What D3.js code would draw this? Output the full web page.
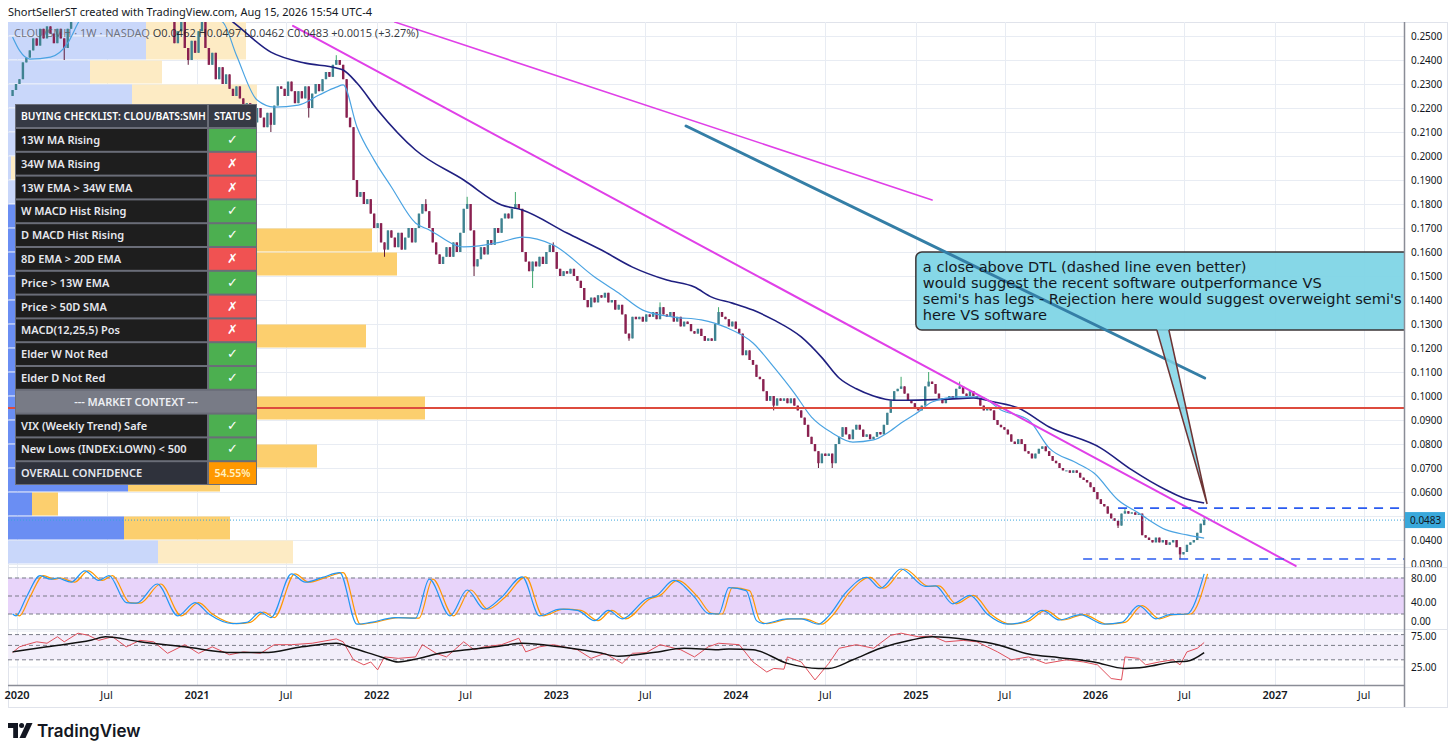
<!DOCTYPE html>
<html>
<head>
<meta charset="utf-8">
<script src="https://cdn.jsdelivr.net/npm/d3@7"></script>
<style>
  body { margin: 0; background: #fff; }
  svg { display: block; font-family: 'Noto Sans', sans-serif; }
</style>
</head>
<body>
<svg></svg>
<script>
// ---------- DATA (prices in 1e-4 units, weekly bars ending on lastWeek) ----------
const lastWeek = '2026-08-10';
const closes = [
  2275, 2300, 2320, 2390, 2410, 2440, 2490, 2460, 2530, 2490, 2540, 2510, 2470, 2530, 2490, 2450, 2530, 2560,
  2620, 2680, 2720, 2760, 2800, 2850, 2900, 2870, 2930, 2980, 2950, 3000, 3050, 2990, 2950, 3000, 3060, 3020, 2980, 2940, 2900, 2870, 2830, 2800, 2760, 2720, 2690, 2650,
  2560, 2470, 2520, 2560, 2450, 2400, 2480, 2430, 2520, 2560, 2450, 2380, 2430, 2320, 2370,
  2300, 2340, 2280, 2250, 2290, 2240, 2190, 2220, 2170, 2140, 2200, 2160, 2120, 2180, 2130, 2210, 2290,
  2280, 2250, 2310, 2270, 2220, 2270, 2240, 2290, 2200, 2260, 2300, 2270, 2320, 2350, 2330, 2380, 2400, 2380, 2320,
  2160, 2120, 1900, 1830, 1850, 1800, 1820, 1760, 1700, 1720, 1640, 1610,
  1690, 1660, 1620, 1680, 1610, 1660, 1700, 1640, 1700, 1760, 1800, 1770, 1700, 1640, 1590, 1550, 1580, 1620, 1580, 1640, 1600, 1680, 1780, 1800, 1690, 1540, 1570, 1620, 1590, 1650, 1630, 1700, 1680, 1740, 1760, 1740, 1780, 1800,
  1780, 1600, 1560, 1520, 1560, 1540, 1580, 1550, 1600, 1630, 1600,
  1530, 1500, 1520, 1510, 1530, 1500, 1480, 1450, 1400, 1370, 1410, 1390, 1420, 1410, 1430, 1390, 1400, 1360, 1380, 1340,
  1260, 1240, 1330, 1320, 1330, 1310, 1340, 1330, 1350, 1320, 1370, 1340, 1330, 1350, 1310, 1330, 1290, 1310, 1300, 1270, 1260, 1280, 1250, 1230, 1240, 1230,
  1300, 1350, 1330, 1320, 1290, 1310, 1280, 1260, 1170, 1190, 1150, 1130, 1080, 1070, 1020, 980, 1000, 960,
  990, 980, 990, 970, 990, 960, 940, 910, 880, 830, 800, 770, 720, 760, 750, 760, 720,
  800, 830, 870, 840, 820, 860, 880, 860, 830, 840, 820, 830, 850, 840, 880, 930, 980, 1020, 1030, 1040,
  1010, 980, 970, 950, 940, 960, 1040, 1060, 1050, 1010, 990, 970, 990, 1000, 990, 1030, 1040, 1010, 1000, 1020, 1000, 990, 960, 940, 950, 940,
  900, 880, 870, 860, 840, 810, 800, 820, 800, 770, 760, 740, 760, 780, 790, 770, 750, 730, 720, 700, 690, 690, 680, 690, 680, 660, 650, 640, 620, 600, 570, 550, 540, 510, 490, 480, 460,
  510, 520, 510, 515, 505, 510, 420, 410, 400, 390, 410, 390, 400, 380, 390, 400, 370, 340, 350, 380, 390, 400, 430, 468, 483
];
// opens that differ from the previous close
const openFix = [[0, 2250], [346, 462]];
// visible wicks [bar index, price]
const wickHigh = [[94, 2420], [120, 1820], [132, 1830], [146, 1850], [157, 1640], [188, 1390], [205, 1370], [258, 1080], [266, 1100], [275, 1060], [323, 530], [346, 497]];
const wickLow = [[15, 2400], [51, 2380], [75, 2100], [86, 2160], [108, 1580], [134, 1500], [151, 1450], [179, 1230], [221, 940], [234, 700], [238, 700], [321, 450], [339, 320]];

// moving averages [bar index, price]
const ema13 = [[0,2496],[2,2440],[5,2404],[11,2412],[16,2470],[19,2554],[25,2700],[33,2850],[40,2850],[46,2700],[52,2600],[61,2558],[65,2420],[71,2233],[76,2204],[83,2212],[89,2254],[94,2287],[96,2296],[100,2121],[105,1983],[110,1871],[117,1721],[121,1692],[131,1621],[142,1642],[148,1662],[157,1629],[169,1496],[176,1429],[183,1358],[192,1329],[200,1317],[207,1287],[215,1221],[221,1121],[227,1012],[232,912],[238,846],[244,808],[250,817],[254,846],[258,887],[263,933],[267,975],[275,996],[281,996],[287,942],[295,900],[301,783],[309,721],[314,679],[321,567],[327,512],[335,442],[341,421],[346,408]];
const ema34 = [[0,2650],[20,2700],[40,2800],[55,2650],[64,2558],[75,2433],[85,2387],[94,2367],[96,2358],[100,2304],[106,2192],[117,2025],[131,1900],[142,1796],[148,1775],[161,1679],[171,1608],[180,1537],[190,1483],[198,1454],[203,1412],[209,1387],[215,1358],[221,1317],[229,1246],[235,1160],[240,1075],[245,1030],[250,1000],[256,982],[263,983],[272,987],[279,992],[285,975],[292,950],[301,871],[316,783],[325,692],[335,608],[340,575],[346,554]];

// stochastic RSI %K [bar index, value]
const stochK = [[0,20],[1,17],[4,48],[8,84],[11,78],[13,80],[17,73],[21,92],[25,76],[28,84],[33,39],[36,38],[42,70],[48,17],[53,39],[57,20],[64,4],[68,6],[72,23],[75,14],[81,87],[85,73],[90,81],[95,89],[100,3],[104,6],[111,14],[117,13],[121,78],[127,17],[132,60],[137,28],[142,48],[148,82],[153,17],[159,28],[164,26],[169,9],[173,26],[177,12],[184,45],[187,51],[192,76],[198,48],[202,21],[205,20],[208,64],[213,59],[216,9],[218,4],[225,12],[229,12],[234,3],[237,17],[242,56],[248,81],[252,63],[258,95],[265,66],[268,67],[273,37],[278,51],[283,20],[289,3],[294,8],[299,26],[304,10],[310,19],[317,3],[322,6],[327,34],[332,12],[336,19],[341,20],[346,87]];
// RSI and its moving average
const rsi = [[0,45],[2,53],[4,56],[7,60],[10,58],[13,67],[15,60],[19,72],[22,69],[25,62],[29,67],[33,53],[37,62],[41,60],[45,44],[50,56],[54,44],[58,53],[63,42],[67,46],[72,44],[76,56],[81,56],[87,58],[94,64],[96,60],[99,35],[102,28],[104,32],[106,21],[108,39],[112,37],[117,39],[119,56],[123,44],[126,39],[131,60],[134,49],[137,53],[142,56],[147,65],[149,46],[153,53],[157,56],[164,49],[168,37],[172,44],[177,30],[180,44],[184,45],[188,56],[194,49],[198,39],[202,53],[205,58],[211,56],[215,32],[219,18],[221,23],[224,22],[225,39],[229,32],[233,7],[237,30],[240,51],[245,56],[250,51],[255,69],[258,72],[263,67],[267,68],[271,60],[276,62],[280,60],[286,46],[290,35],[295,39],[300,30],[306,35],[311,32],[315,28],[319,9],[322,7],[323,39],[327,37],[329,28],[333,32],[337,35],[339,28],[341,46],[344,51],[346,59]];
const rsiMa = [[0,46],[10,53],[23,62.5],[27,67],[37,60],[50,53],[64,45],[73,45],[84,53],[94,58],[99,51],[107,39],[112,32],[118,37],[124,44],[132,49],[140,53],[148,58],[159,53],[170,45],[176,40],[186,45],[195,51],[205,49],[208,50],[215,49],[225,30],[234,23],[237,23],[244,35],[252,51],[261,62.5],[267,67],[278,62.5],[286,56],[295,43],[304,38],[314,32],[323,23],[329,25],[337,32],[341,33],[346,45]];

// volume profile rows (lower bound of each 0.01 bin)
const vpBins = [0.03,0.04,0.05,0.06,0.07,0.08,0.09,0.10,0.11,0.12,0.13,0.14,0.15,0.16,0.17,0.18,0.19,0.20,0.21,0.22,0.23,0.24,0.25];
const vpUp   = [150,116,24,120,170,140,230,120,130,200,120,140,200,180,150,110,3,100,120,124,82,138,138];
const vpDown = [135,106,26,92,139,100,187,100,90,158,80,90,189,184,90,90,120,80,80,125,72,100,100];
const valueArea = [0.04, 0.18];

// drawings
const dtl = [['2021-07-15', 0.2542], ['2027-02-12', 0.0292]];
const upperTl = [['2022-02-07', 0.2558], ['2025-02-03', 0.1817]];
const tealTl = [['2023-09-22', 0.2125], ['2026-08-11', 0.1075]];
const redLevel = 0.095;
const dashedRays = [['2026-02-16', 0.0533], ['2025-12-07', 0.0321]];
const lastPrice = 0.0483;
const callout = {box: ['2025-01-01', 0.16], tip: ['2026-08-16', 0.055]};
const calloutLines = [
  'a close above DTL (dashed line even better)',
  'would suggest the recent software outperformance VS',
  "semi's has legs - Rejection here would suggest overweight semi's",
  'here VS software'
];

// axes
const priceTicks = [0.03,0.04,0.05,0.06,0.07,0.08,0.09,0.10,0.11,0.12,0.13,0.14,0.15,0.16,0.17,0.18,0.19,0.20,0.21,0.22,0.23,0.24,0.25];
const timeTicks = ['2020-01-01','2020-07-01','2021-01-01','2021-07-01','2022-01-01','2022-07-01','2023-01-01','2023-07-01','2024-01-01','2024-07-01','2025-01-01','2025-07-01','2026-01-01','2026-07-01','2027-01-01','2027-07-01'];
const timeLabels = ['2020','Jul','2021','Jul','2022','Jul','2023','Jul','2024','Jul','2025','Jul','2026','Jul','2027','Jul'];
const kLevels = [80, 50, 20];
const kLabels = [80, 40, 0];
const rLevels = [70, 55, 35];
const rLabels = [75, 25];

// checklist table
const checklist = [
  ['13W MA Rising', true], ['34W MA Rising', false], ['13W EMA > 34W EMA', false],
  ['W MACD Hist Rising', true], ['D MACD Hist Rising', true], ['8D EMA > 20D EMA', false],
  ['Price > 13W EMA', true], ['Price > 50D SMA', false], ['MACD(12,25,5) Pos', false],
  ['Elder W Not Red', true], ['Elder D Not Red', true], ['--- MARKET CONTEXT ---', null],
  ['VIX (Weekly Trend) Safe', true], ['New Lows (INDEX:LOWN) < 500', true], ['OVERALL CONFIDENCE', '54.55%']
];

// ---------- LAYOUT ----------
const size = {w: 1456, h: 755};
const plot = {l: 8, r: 1404, t: 22, b: 567};
const paneK = {t: 567, b: 629};
const paneR = {t: 629, b: 685};
const svg = d3.select('svg').attr('width', size.w).attr('height', size.h);
const parse = d3.timeParse('%Y-%m-%d');

const x = d3.scaleTime().domain([new Date(2020, 0, 1), new Date(2027, 0, 1)]).range([17, 1275]);
const y = d3.scaleLinear().domain([0.03, 0.25]).range([564, 36]);
const yK = d3.scaleLinear().domain([0, 100]).range([626, 566]);
const yR = d3.scaleLinear().domain([0, 100]).range([685, 613]);
const vpX = d3.scaleLinear().domain([0, 400]).range([0, 400]);

const lastIdx = closes.length - 1;
const lastDate = parse(lastWeek);
const weekDate = i => d3.timeDay.offset(lastDate, 7 * (i - lastIdx));
const xi = i => x(weekDate(i));

// clip paths for the panes (and for their axis labels)
const defs = svg.append('defs');
[['clipMain', plot.l, plot.r, plot.t, plot.b], ['clipK', plot.l, plot.r, paneK.t, paneK.b], ['clipR', plot.l, plot.r, paneR.t, paneR.b],
 ['axMain', plot.r, 1447, plot.t, plot.b]].forEach(c => {
  defs.append('clipPath').attr('id', c[0]).append('rect')
    .attr('x', c[1]).attr('y', c[3]).attr('width', c[2] - c[1]).attr('height', c[4] - c[3]);
});

// header
svg.append('text').attr('x', 8).attr('y', 16).attr('font-size', 11).attr('fill', '#131722')
  .text('ShortSellerST created with TradingView.com, Aug 15, 2026 15:54 UTC-4');

// frame
svg.append('rect').attr('x', plot.l + 0.5).attr('y', plot.t + 0.5).attr('width', 1447 - plot.l).attr('height', 707 - plot.t)
  .attr('fill', 'none').attr('stroke', '#e0e3eb');

// ---------- GRID ----------
const gridG = svg.append('g').attr('stroke', '#e8ecf3').attr('stroke-width', 1);
gridG.selectAll('line.h').data(priceTicks).join('line').attr('class', 'h')
  .attr('x1', plot.l).attr('x2', plot.r).attr('y1', d => Math.round(y(d)) + 0.5).attr('y2', d => Math.round(y(d)) + 0.5);
gridG.selectAll('line.v').data(timeTicks).join('line').attr('class', 'v')
  .attr('x1', d => Math.round(x(parse(d))) + 0.5).attr('x2', d => Math.round(x(parse(d))) + 0.5)
  .attr('y1', plot.t).attr('y2', paneR.b);
gridG.selectAll('line.k').data([40, 80]).join('line').attr('class', 'k')
  .attr('x1', plot.l).attr('x2', plot.r).attr('y1', d => yK(d)).attr('y2', d => yK(d));
gridG.selectAll('line.r').data(rLabels).join('line').attr('class', 'r')
  .attr('x1', plot.l).attr('x2', plot.r).attr('y1', d => yR(d)).attr('y2', d => yR(d));

// ---------- MAIN PANE ----------
const mainG = svg.append('g').attr('clip-path', 'url(#clipMain)');

// volume profile rows
const vpRows = vpBins.map((lo, i) => ({lo, up: vpUp[i], dn: vpDown[i], va: lo >= valueArea[0] - 1e-9 && lo < valueArea[1] - 1e-9}));
const vpG = mainG.append('g').classed('vp', true);
vpG.selectAll('rect.up').data(vpRows).join('rect').attr('class', 'up')
  .attr('x', plot.l).attr('y', d => y(d.lo + 0.01) + 0.5).attr('height', d => y(d.lo) - y(d.lo + 0.01) - 1)
  .attr('width', d => vpX(d.up)).attr('fill', d => d.va ? '#6a8ef3' : '#c9d7fa');
vpG.selectAll('rect.dn').data(vpRows).join('rect').attr('class', 'dn')
  .attr('x', d => plot.l + vpX(d.up)).attr('y', d => y(d.lo + 0.01) + 0.5).attr('height', d => y(d.lo) - y(d.lo + 0.01) - 1)
  .attr('width', d => vpX(d.dn)).attr('fill', d => d.va ? '#fccf6e' : '#fdebc4');

// candles
const openMap = new Map(openFix), hiMap = new Map(wickHigh), loMap = new Map(wickLow);
const bars = closes.map((c, i) => {
  const o = openMap.has(i) ? openMap.get(i) : closes[i - 1];
  return {i, o: o / 1e4, c: c / 1e4,
    h: Math.max(o, c, hiMap.get(i) || 0) / 1e4,
    l: Math.min(o, c, loMap.get(i) || Infinity) / 1e4};
});
const bw = (xi(1) - xi(0)) * 0.7;
const candleG = mainG.append('g').classed('candles', true);
candleG.selectAll('line').data(bars).join('line')
  .attr('x1', d => xi(d.i)).attr('x2', d => xi(d.i))
  .attr('y1', d => y(d.h)).attr('y2', d => y(d.l))
  .attr('stroke', d => d.c >= d.o ? '#3ea86a' : '#5e1838').attr('stroke-width', 1);
candleG.selectAll('rect').data(bars).join('rect')
  .attr('x', d => xi(d.i) - bw / 2).attr('width', bw)
  .attr('y', d => y(Math.max(d.o, d.c)))
  .attr('height', d => Math.max(1, Math.abs(y(d.o) - y(d.c))))
  .attr('fill', d => d.c >= d.o ? '#3f8291' : '#8a2150');

// moving averages
const maLine = d3.line().x(d => xi(d[0])).y(d => y(d[1] / 1e4)).curve(d3.curveMonotoneX);
mainG.append('path').attr('d', maLine(ema34)).attr('fill', 'none').attr('stroke', '#1f1f80').attr('stroke-width', 1.6);
mainG.append('path').attr('d', maLine(ema13)).attr('fill', 'none').attr('stroke', '#4aa3e2').attr('stroke-width', 1.2);

// drawings: trendlines, levels, rays
const tl = (pts, color, w) => mainG.append('line')
  .attr('x1', x(parse(pts[0][0]))).attr('y1', y(pts[0][1]))
  .attr('x2', x(parse(pts[1][0]))).attr('y2', y(pts[1][1]))
  .attr('stroke', color).attr('stroke-width', w).attr('stroke-linecap', 'round');
tl(upperTl, '#e040e8', 1.6);
tl(dtl, '#e040e8', 2);
mainG.append('line').attr('x1', plot.l).attr('x2', plot.r).attr('y1', y(redLevel)).attr('y2', y(redLevel))
  .attr('stroke', '#dd4b3e').attr('stroke-width', 2);
mainG.selectAll('line.ray').data(dashedRays).join('line').attr('class', 'ray')
  .attr('x1', d => x(parse(d[0]))).attr('x2', plot.r).attr('y1', d => y(d[1])).attr('y2', d => y(d[1]))
  .attr('stroke', '#2a5bf0').attr('stroke-width', 1.6).attr('stroke-dasharray', '9,7');
mainG.append('line').attr('x1', plot.l).attr('x2', plot.r).attr('y1', y(lastPrice)).attr('y2', y(lastPrice))
  .attr('stroke', '#3aa5dc').attr('stroke-width', 1).attr('stroke-dasharray', '1,2');

// callout box with pointer
const bx = x(parse(callout.box[0])), by = y(callout.box[1]);
const tx = x(parse(callout.tip[0])), ty = y(callout.tip[1]);
const boxW = 620, boxH = 78;
mainG.append('rect').attr('x', bx).attr('y', by).attr('width', boxW).attr('height', boxH).attr('rx', 6)
  .attr('fill', '#7fd5e6').attr('fill-opacity', 0.95).attr('stroke', '#3b3536').attr('stroke-width', 1.5);
tl(tealTl, '#347ea6', 3);
const pb1 = bx + 241, pb2 = bx + 253;
mainG.append('path').attr('d', `M${pb1},${by + boxH - 1} L${tx},${ty} L${pb2},${by + boxH - 1} Z`)
  .attr('fill', '#7fd5e6').attr('fill-opacity', 0.85);
mainG.append('path').attr('d', `M${pb1},${by + boxH} L${tx},${ty} L${pb2},${by + boxH}`)
  .attr('fill', 'none').attr('stroke', '#6e3434').attr('stroke-width', 1.5);
mainG.append('g').selectAll('text').data(calloutLines).join('text')
  .attr('x', bx + 7).attr('y', (d, i) => by + 20 + i * 16)
  .attr('font-family', 'DejaVu Sans').attr('font-size', 14.6).attr('fill', '#131722').text(d => d);

// symbol legend
svg.append('text').attr('x', 14).attr('y', 37).attr('font-size', 11)
  .call(t => {
    t.append('tspan').attr('fill', '#5d606b').attr('fill-opacity', 0.85).text('CLOU/SMH · 1W · NASDAQ  ');
    t.append('tspan').attr('fill', '#131722').attr('fill-opacity', 0.85).text('O0.0462 H0.0497 L0.0462 C0.0483 +0.0015 (+3.27%)');
  });

// ---------- STOCH RSI PANE ----------
const kG = svg.append('g').attr('clip-path', 'url(#clipK)');
kG.append('rect').attr('x', plot.l).attr('width', plot.r - plot.l).attr('y', yK(80)).attr('height', yK(20) - yK(80)).attr('fill', '#e8d4fa');
kG.selectAll('line.lv').data(kLevels).join('line').attr('class', 'lv')
  .attr('x1', plot.l).attr('x2', plot.r).attr('y1', d => yK(d)).attr('y2', d => yK(d))
  .attr('stroke', '#787b86').attr('stroke-dasharray', '4,3');
const kLine = d3.line().x(d => xi(d[0])).y(d => yK(d[1])).curve(d3.curveMonotoneX);
kG.append('path').attr('d', kLine(stochK)).attr('transform', `translate(${xi(1) - xi(0)},0)`)
  .attr('fill', 'none').attr('stroke', '#ff9800').attr('stroke-width', 1.2);
kG.append('path').attr('d', kLine(stochK)).attr('fill', 'none').attr('stroke', '#2196f3').attr('stroke-width', 1.2);

// ---------- RSI PANE ----------
const rG = svg.append('g').attr('clip-path', 'url(#clipR)');
rG.append('rect').attr('x', plot.l).attr('width', plot.r - plot.l).attr('y', yR(70)).attr('height', yR(35) - yR(70)).attr('fill', '#f2eefa');
rG.selectAll('line.lv').data(rLevels).join('line').attr('class', 'lv')
  .attr('x1', plot.l).attr('x2', plot.r).attr('y1', d => yR(d)).attr('y2', d => yR(d))
  .attr('stroke', '#787b86').attr('stroke-dasharray', '4,3');
rG.append('path').attr('d', d3.line().x(d => xi(d[0])).y(d => yR(d[1]))(rsi))
  .attr('fill', 'none').attr('stroke', '#e0505c').attr('stroke-width', 1);
rG.append('path').attr('d', d3.line().x(d => xi(d[0])).y(d => yR(d[1])).curve(d3.curveMonotoneX)(rsiMa))
  .attr('fill', 'none').attr('stroke', '#111').attr('stroke-width', 1.5);

// pane separators and axes lines
svg.selectAll('line.sep').data([paneK.t, paneR.t]).join('line').attr('class', 'sep')
  .attr('x1', plot.l).attr('x2', 1447).attr('y1', d => d + 0.5).attr('y2', d => d + 0.5).attr('stroke', '#dfe3ea');
svg.append('line').attr('x1', plot.l).attr('x2', plot.r).attr('y1', 685.5).attr('y2', 685.5).attr('stroke', '#8a8d96').attr('stroke-width', 1.5);
svg.append('line').attr('x1', plot.r + 0.5).attr('x2', plot.r + 0.5).attr('y1', plot.t).attr('y2', 707).attr('stroke', '#8a8d96').attr('stroke-width', 1.5);

// ---------- AXIS LABELS ----------
const axisG = svg.append('g').attr('font-size', 10).attr('fill', '#131722');
// price labels, except the one hidden under the last-price tag
const tagTop = y(lastPrice) - 8, tagBottom = y(lastPrice) + 8;
axisG.append('g').attr('clip-path', 'url(#axMain)').selectAll('text')
  .data(priceTicks.filter(d => y(d) + 5 < tagTop || y(d) - 5 > tagBottom)).join('text')
  .attr('x', 1411).attr('y', d => y(d) + 3.5).text(d => d3.format('.4f')(d));
// pane labels; the 0 of the stoch pane and the 75 of the RSI pane are nudged apart at the pane edge
axisG.selectAll('text.k').data(kLabels).join('text').attr('class', 'k')
  .attr('x', 1411).attr('y', d => d === 0 ? yK(d) - 1 : yK(d) + 3.5).text(d => d3.format('.2f')(d));
axisG.selectAll('text.r').data(rLabels).join('text').attr('class', 'r')
  .attr('x', 1411).attr('y', d => d === 75 ? yR(d) + 8.5 : yR(d) + 3.5).text(d => d3.format('.2f')(d));
// last price tag
svg.append('rect').attr('x', plot.r + 1).attr('y', tagTop).attr('width', 40).attr('height', 16).attr('fill', '#39a8db');
svg.append('text').attr('x', 1410).attr('y', y(lastPrice) + 3.5).attr('font-size', 10).attr('fill', '#131722').text(lastPrice.toFixed(4));
// time axis
axisG.selectAll('text.t').data(timeTicks).join('text').attr('class', 't')
  .attr('x', d => x(parse(d))).attr('y', 699).attr('text-anchor', 'middle').attr('font-size', 11)
  .attr('font-weight', (d, i) => timeLabels[i] === 'Jul' ? 400 : 600)
  .text((d, i) => timeLabels[i]);

// ---------- CHECKLIST TABLE ----------
const tb = {x0: 15, split: 208, x1: 257, top: 104, headH: 24, rowH: 23.8};
const tableG = svg.append('g').attr('font-size', 11).attr('font-weight', 600);
const tableBottom = tb.top + tb.headH + checklist.length * tb.rowH;
tableG.append('rect').attr('x', tb.x0).attr('y', tb.top).attr('width', tb.x1 - tb.x0).attr('height', tableBottom - tb.top).attr('fill', '#6a6d78');
const cell = (x0, y0, w, h, fill) => tableG.append('rect').attr('x', x0 + 1).attr('y', y0 + 1).attr('width', w - 2).attr('height', h - 2).attr('fill', fill);
cell(tb.x0, tb.top, tb.split - tb.x0, tb.headH, '#363a45');
cell(tb.split, tb.top, tb.x1 - tb.split, tb.headH, '#363a45');
tableG.append('text').attr('x', tb.x0 + 6).attr('y', tb.top + 16).attr('font-size', 10.3).attr('fill', '#ffffff').text('BUYING CHECKLIST: CLOU/BATS:SMH');
tableG.append('text').attr('x', (tb.split + tb.x1) / 2).attr('y', tb.top + 16).attr('font-size', 10.5).attr('text-anchor', 'middle').attr('fill', '#ffffff').text('STATUS');
checklist.forEach((r, k) => {
  const y0 = tb.top + tb.headH + k * tb.rowH, cy = y0 + tb.rowH / 2 + 4;
  if (r[1] === null) {
    cell(tb.x0, y0, tb.x1 - tb.x0, tb.rowH, '#787b86');
    tableG.append('text').attr('x', (tb.x0 + tb.x1) / 2).attr('y', cy).attr('text-anchor', 'middle').attr('fill', '#eceef2').text(r[0]);
    return;
  }
  const isTotal = typeof r[1] === 'string';
  cell(tb.x0, y0, tb.split - tb.x0, tb.rowH, isTotal ? '#2f323c' : '#1e1e1e');
  cell(tb.split, y0, tb.x1 - tb.split, tb.rowH, isTotal ? '#ff9800' : (r[1] ? '#4caf50' : '#f05252'));
  tableG.append('text').attr('x', tb.x0 + 6).attr('y', cy).attr('fill', '#e6e8ee').text(r[0]);
  tableG.append('text').attr('x', (tb.split + tb.x1) / 2).attr('y', cy).attr('text-anchor', 'middle')
    .attr('fill', isTotal ? '#fff1c0' : '#ffffff').attr('font-family', isTotal ? null : 'DejaVu Sans')
    .attr('font-size', isTotal ? 10.5 : 13)
    .text(isTotal ? r[1] : (r[1] ? '✓' : '✗'));
});

// ---------- FOOTER LOGO ----------
const logoG = svg.append('g').attr('transform', 'translate(8,723)').attr('fill', '#131722');
logoG.append('path').attr('d', 'M0,0 H10 V15 H5.2 V5 H0 Z');
logoG.append('circle').attr('cx', 13.6).attr('cy', 2.5).attr('r', 2.5);
logoG.append('path').attr('d', 'M18.5,0 H24.5 L17.5,15 H11.5 Z');
svg.append('text').attr('x', 37).attr('y', 737).attr('font-family', 'Inter').attr('font-size', 17).attr('font-weight', 600)
  .attr('fill', '#131722').text('TradingView');
</script>
</body>
</html>
